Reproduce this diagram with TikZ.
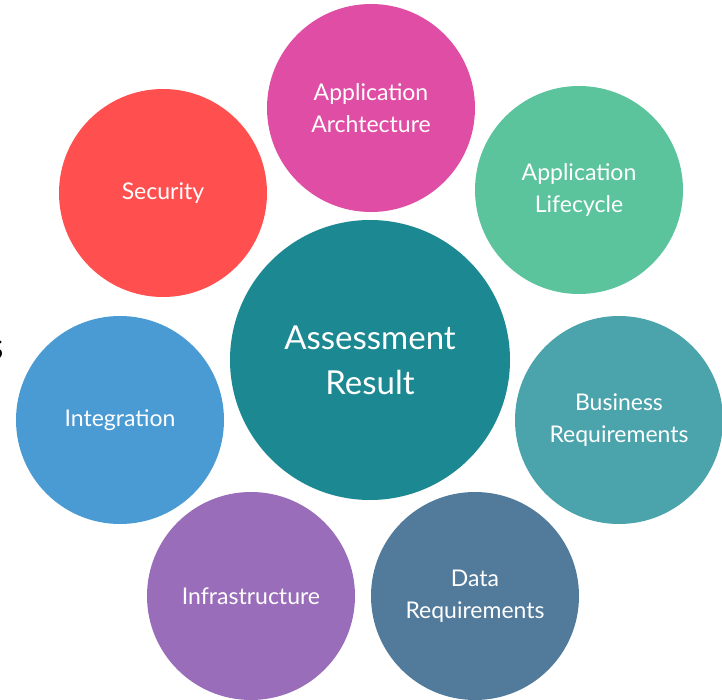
\documentclass[tikz,border=0pt]{standalone}
\usepackage{fontspec}
\setmainfont{Lato}
\begin{document}
\begin{tikzpicture}[x=1pt,y=-1pt,
  bubble/.style={circle,minimum size=208pt,inner sep=0pt,text=white,align=center,
    font=\fontsize{23}{32}\selectfont},
  hub/.style={circle,minimum size=280pt,inner sep=0pt,text=white,align=center,
    font=\fontsize{33}{45}\selectfont}]
\definecolor{cArch}{HTML}{E04DA5}
\definecolor{cLife}{HTML}{5BC49C}
\definecolor{cBus}{HTML}{4BA3AB}
\definecolor{cData}{HTML}{527A9A}
\definecolor{cInfra}{HTML}{9A6DBA}
\definecolor{cInt}{HTML}{4A9AD3}
\definecolor{cSec}{HTML}{FF4F4F}
\definecolor{cHub}{HTML}{1C8891}
\useasboundingbox (0,0) rectangle (722,700);
\node[anchor=east,font=\fontsize{38}{40}\selectfont] (frag) at (7,350) {s};
\node[bubble,fill=cArch] (arch) at (371,108) {Application\\Archtecture};
\node[bubble,fill=cLife] (life) at (579,190) {Application\\Lifecycle};
\node[bubble,fill=cBus] (bus) at (619,420) {Business\\Requirements};
\node[bubble,fill=cData] (data) at (475,596) {Data\\Requirements};
\node[bubble,fill=cInfra] (infra) at (251,596) {Infrastructure};
\node[bubble,fill=cInt] (int) at (120,420) {Integration};
\node[bubble,fill=cSec] (sec) at (163,193) {Security};
\node[hub,fill=cHub] (hub) at (370,360) {Assessment\\Result};
\end{tikzpicture}
\end{document}
